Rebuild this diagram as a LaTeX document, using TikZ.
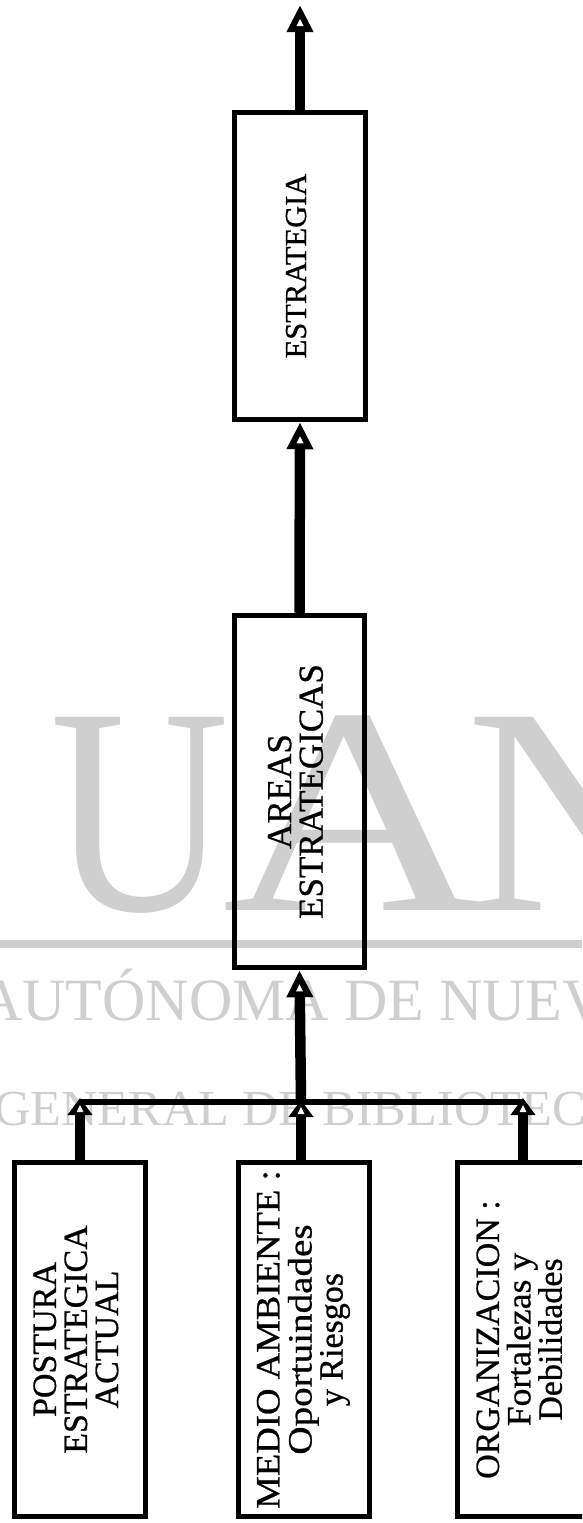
\documentclass[tikz,border=0pt]{standalone}
\usepackage{fontspec}
\setmainfont{Liberation Serif}
\newfontfamily\dfont[FakeBold=0.7]{Liberation Serif}
\usetikzlibrary{arrows.meta,calc}
\tikzset{
  box/.style={draw, line width=5.5pt, inner sep=0pt, minimum width=131pt, minimum height=354pt},
  bigarrow/.style={line width=10.5pt, -{Triangle[length=27pt,width=25pt]}},
  smallarrow/.style={line width=10pt, -{Triangle[length=17pt,width=24pt]}},
  barline/.style={line width=6pt},
  wm/.style={text=black!19, inner sep=0pt},
}
\newcommand\vlines[3]{\rotatebox{90}{\dfont\fontsize{#1}{#2}\selectfont\begin{tabular}{@{}c@{}}#3\end{tabular}}}
\newcommand\hole[2]{\fill[white] ($(#2)+(0,#1)$) -- ++(-3.5,7) -- ++(7,0) -- cycle;}
\begin{document}
\begin{tikzpicture}[x=1pt,y=-1pt]
\useasboundingbox (0,0) rectangle (582,1523);
\clip (0,0) rectangle (582,1523);
% watermark
\fill[black!19] (0,940) rectangle (582,948);
\node[wm,anchor=base west] (wU) at (50,910) {\fontsize{295}{295}\selectfont\scalebox{0.84}[1]{U}};
\node[wm,anchor=base west] (wA) at (222,910) {\fontsize{295}{295}\selectfont\scalebox{1.25}[1]{A}};
\node[wm,anchor=base west] (wN) at (466,910) {\fontsize{295}{295}\selectfont N};
\node[wm,anchor=base west] (wl1) at (-21,1020) {\fontsize{60}{60}\selectfont AUTÓNOMA DE NUEV};
\node[wm,anchor=base west] (wl2) at (-6,1125) {\fontsize{50.5}{50.5}\selectfont GENERAL DE BIBLIOTEC};
% boxes
\node[box, minimum height=307pt] (estr) at (300,266) {\vlines{30.5}{30}{ESTRATEGIA}};
\node[box, minimum width=130pt, minimum height=352pt] (areas) at (299.5,791.5) {\vlines{35}{28}{AREAS\\ESTRATEGICAS}};
\node[box] (post) at (80,1339.5) {\vlines{34}{28.5}{POSTURA\\ESTRATEGICA\\ACTUAL}};
\node[box] (medio) at (304,1339.5) {\vlines{34}{28.5}{\scalebox{1.08}[1]{MEDIO AMBIENTE :}\\\scalebox{1.15}[1]{Oportuindades}\\y Riesgos}};
\node[box] (org) at (523,1339.5) {\vlines{34}{26}{ORGANIZACION :\\\scalebox{1.05}[1]{Fortalezas y}\\Debilidades}};
% connectors
\coordinate (top) at (300,5);
\coordinate (bar) at (301,1102);
\coordinate (tl) at ($(post.north |- bar)+(0,-4)$);
\coordinate (tm) at ($(medio.north |- bar)+(-3,-2)$);
\coordinate (tr) at ($(org.north |- bar)+(0,-4)$);
\draw[bigarrow] (estr.north) -- (top);
\draw[bigarrow] (areas.north) -- (estr.south);
\draw[bigarrow] (bar) -- (areas.south);
\draw[barline] (post.north |- bar) -- (org.north |- bar);
\draw[smallarrow] (post.north) -- (tl);
\draw[smallarrow] ($(medio.north)+(-3,0)$) -- (tm);
\draw[smallarrow] (org.north) -- (tr);
\hole{14}{top}
\hole{14}{estr.south}
\hole{14}{areas.south}
\hole{7}{tl}
\hole{7}{tm}
\hole{7}{tr}
\end{tikzpicture}
\end{document}
